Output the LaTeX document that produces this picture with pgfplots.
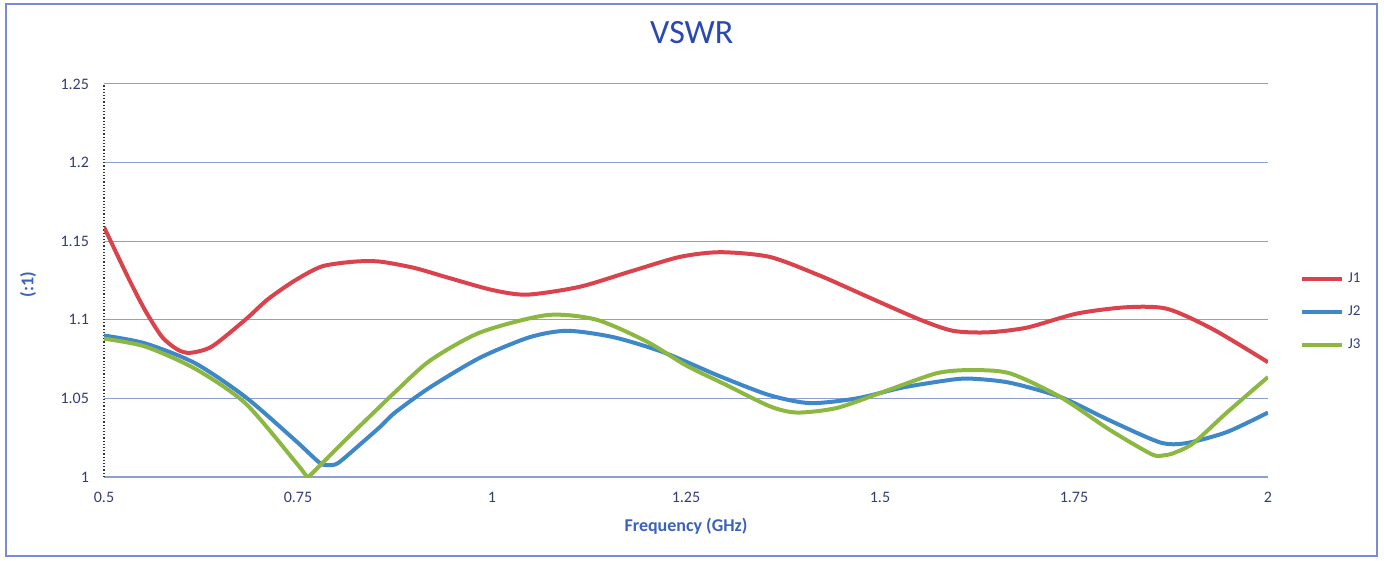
\documentclass[border=0pt]{standalone}
\usepackage{pgfplots}
\pgfplotsset{compat=1.18}
\usepackage{fontspec}
\setmainfont{Carlito}

\definecolor{cJ1}{RGB}{218,66,76}
\definecolor{cJ2}{RGB}{62,136,200}
\definecolor{cJ3}{RGB}{140,184,66}
\definecolor{titleblue}{RGB}{42,72,178}
\definecolor{labelblue}{RGB}{58,98,186}
\definecolor{tickblue}{RGB}{52,62,118}
\definecolor{gridblue}{RGB}{140,158,210}
\definecolor{framecol}{RGB}{120,140,212}

\begin{document}
\begin{tikzpicture}
\begin{axis}[
    scale only axis,
    width=582pt, height=196.5pt,
    xmin=0.5, xmax=2, ymin=1, ymax=1.25,
    xtick={0.5,0.75,1,1.25,1.5,1.75,2},
    xticklabels={0.5,0.75,1,1.25,1.5,1.75,2},
    ytick={1,1.05,1.1,1.15,1.2,1.25},
    yticklabels={1,1.05,1.1,1.15,1.2,1.25},
    /pgf/number format/assume math mode=true,
    major tick length=0pt,
    axis x line*=bottom, axis y line*=left,
    x axis line style={gridblue, line width=0.6pt, -},
    y axis line style={black!80, line width=0.6pt, densely dotted, -},
    ymajorgrids, grid style={gridblue, line width=0.5pt},
    tick label style={font=\fontsize{8}{9}\selectfont, text=tickblue},
    xticklabel style={yshift=-4pt},
    yticklabel style={xshift=-4pt},
    title={VSWR},
    title style={font=\fontsize{17}{18}\selectfont, text=titleblue,
        at={(axis description cs:0.505,1)}, anchor=center, yshift=19.5pt},
    xlabel={\bfseries Frequency (GHz)},
    xlabel style={font=\fontsize{9}{10}\selectfont, text=labelblue,
        at={(axis description cs:0.5,0)}, anchor=center, yshift=-24.5pt},
    ylabel={\bfseries (:1)},
    ylabel style={font=\fontsize{9}{10}\selectfont, text=labelblue,
        at={(axis description cs:0,0.49)}, anchor=center, rotate=0, yshift=38pt},
    legend style={at={(axis description cs:1.022,0.42)}, anchor=west, draw=none,
        fill=none, font=\fontsize{7.5}{8}\selectfont, text=tickblue,
        row sep=6pt},
    legend cell align=left,
    legend image code/.code={\draw[#1, line width=2pt] (0pt,0pt) -- (20pt,0pt);},
    every axis plot/.append style={line width=2pt, smooth, tension=0.45},
]
\addplot[cJ1] coordinates {
(0.5,1.159)(0.531,1.127)(0.553,1.106)(0.575,1.089)(0.595,1.081)(0.611,1.079)
(0.639,1.083)(0.682,1.100)(0.711,1.113)(0.746,1.125)(0.781,1.134)(0.823,1.137)
(0.856,1.137)(0.900,1.133)(0.942,1.127)(1.000,1.119)(1.045,1.116)(1.113,1.121)
(1.180,1.131)(1.242,1.140)(1.294,1.143)(1.358,1.140)(1.423,1.128)(1.487,1.114)
(1.552,1.100)(1.594,1.093)(1.638,1.092)(1.689,1.095)(1.754,1.104)(1.818,1.108)
(1.870,1.107)(1.929,1.094)(2.000,1.073)
};
\addlegendentry{J1}
\addplot[cJ2] coordinates {
(0.5,1.090)(0.553,1.085)(0.617,1.0725)(0.682,1.051)(0.746,1.0235)(0.778,1.009)
(0.790,1.0076)(0.802,1.009)(0.832,1.0216)(0.856,1.032)(0.875,1.041)(0.920,1.057)
(0.985,1.076)(1.049,1.089)(1.097,1.093)(1.156,1.089)(1.220,1.0795)(1.294,1.064)
(1.358,1.052)(1.410,1.047)(1.470,1.050)(1.530,1.057)(1.594,1.062)(1.620,1.0625)
(1.667,1.060)(1.732,1.051)(1.796,1.036)(1.861,1.022)(1.895,1.0216)(1.947,1.0286)
(2.000,1.041)
};
\addlegendentry{J2}
\addplot[cJ3] coordinates {
(0.5,1.088)(0.553,1.083)(0.617,1.069)(0.682,1.047)(0.746,1.010)(0.760,1.0012)
(0.763,1.000)(0.766,1.0012)(0.811,1.0235)(0.856,1.045)(0.875,1.054)(0.920,1.074)
(0.985,1.092)(1.071,1.103)(1.135,1.100)(1.200,1.086)(1.250,1.071)(1.300,1.059)
(1.358,1.045)(1.393,1.041)(1.445,1.044)(1.509,1.055)(1.573,1.066)(1.616,1.068)
(1.667,1.066)(1.732,1.051)(1.796,1.030)(1.850,1.0145)(1.866,1.0138)(1.880,1.0155)
(1.904,1.0216)(1.947,1.041)(2.000,1.0636)
};
\addlegendentry{J3}
\end{axis}
% outer chart frame and page extent (1px = 0.5pt)
\draw[framecol, line width=1pt] ([xshift=-49pt,yshift=-39.5pt]current axis.south west)
    rectangle ([xshift=636.5pt,yshift=236.5pt]current axis.south west);
\path ([xshift=-52pt,yshift=-42pt]current axis.south west)
    rectangle ([xshift=640pt,yshift=238.5pt]current axis.south west);
\end{tikzpicture}
\end{document}
